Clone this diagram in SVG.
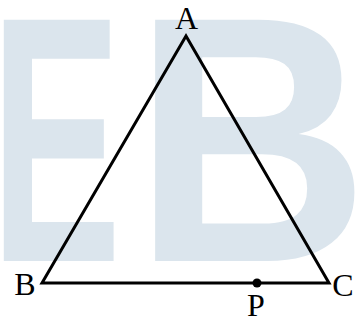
<svg xmlns="http://www.w3.org/2000/svg" width="357" height="322" viewBox="0 0 357 322">
<style>
.wm{font-family:"Liberation Sans",Arial,sans-serif;font-weight:bold;font-size:330px;fill:#dbe5ed}
.lbl{font-family:"Liberation Serif","Times New Roman",serif;font-size:32px;fill:#000;text-anchor:middle}
.edge{stroke:#000;stroke-width:3;fill:none;stroke-linejoin:miter}
</style>
<rect width="357" height="322" fill="#fff"/>
<g id="watermark">
<text class="wm" transform="translate(-9.3,261) scale(0.593,1.063)">E</text>
<text class="wm" transform="translate(133.3,261) scale(0.99,1.063)">B</text>
</g>
<g id="connectors">
<polygon class="edge" points="186,36 42,283 329,283"/>
</g>
<g id="nodeA"><text class="lbl" x="186.5" y="29">A</text></g>
<g id="nodeB"><text class="lbl" x="25" y="295">B</text></g>
<g id="nodeC"><text class="lbl" x="343" y="296">C</text></g>
<g id="nodeP"><circle cx="257" cy="283" r="4.5" fill="#000"/><text class="lbl" x="256" y="316">P</text></g>
</svg>
